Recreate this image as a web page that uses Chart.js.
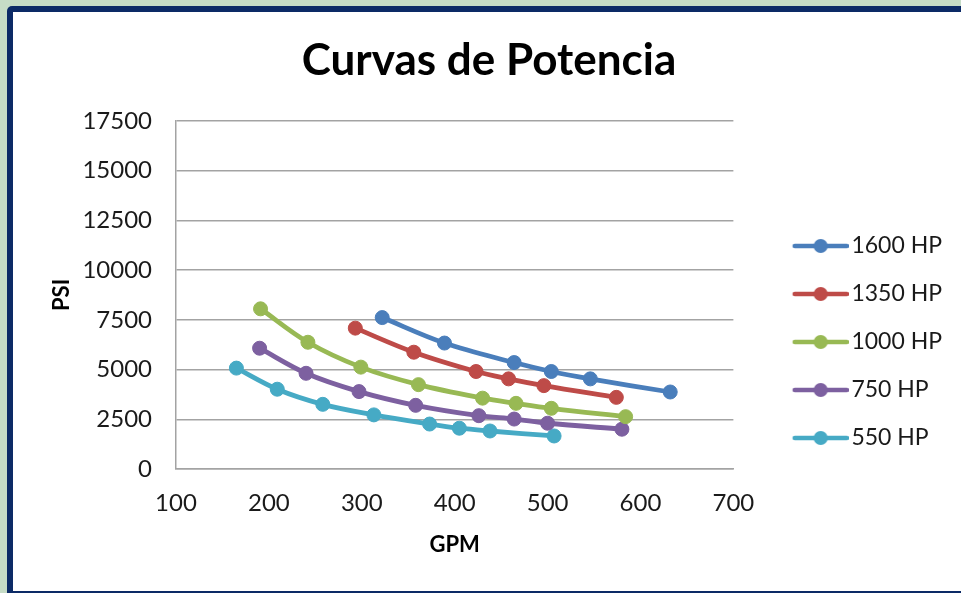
<!DOCTYPE html>
<html>
<head>
<meta charset="utf-8">
<title>Curvas de Potencia</title>
<script src="https://cdn.jsdelivr.net/npm/chart.js@4.4.1/dist/chart.umd.min.js"></script>
<style>
  html, body { margin: 0; padding: 0; background: #c6dcc6; }
  #wrap { position: relative; width: 961px; height: 593px; }
  canvas { display: block; }
</style>
</head>
<body>
<div id="wrap"><canvas id="chart" width="961" height="593"></canvas></div>
<script>
// Axis tick values
const xTicks = [100, 200, 300, 400, 500, 600, 700];
const yTicks = [0, 2500, 5000, 7500, 10000, 12500, 15000, 17500];

// Series names and colours
const seriesNames = ['1600 HP', '1350 HP', '1000 HP', '750 HP', '550 HP'];
const seriesColors = ['#4a7ebb', '#be4b48', '#98b954', '#7d60a0', '#46aac5'];

// Caudal (GPM) y presión (PSI) de cada curva de potencia
const gpm1600 = [322, 389, 464, 504, 546, 632];
const psi1600 = [7610, 6330, 5350, 4900, 4530, 3870];
const gpm1350 = [293, 356, 423, 458, 496, 574];
const psi1350 = [7080, 5870, 4900, 4530, 4190, 3600];
const gpm1000 = [191, 242, 299, 361, 430, 466, 504, 584];
const psi1000 = [8050, 6370, 5120, 4240, 3560, 3300, 3050, 2630];
const gpm750 = [190, 240, 297, 358, 426, 464, 500, 580];
const psi750 = [6070, 4810, 3890, 3200, 2680, 2510, 2300, 2000];
const gpm550 = [165, 209, 258, 313, 373, 405, 438, 507];
const psi550 = [5070, 4010, 3250, 2720, 2260, 2050, 1910, 1660];

const seriesGpm = [gpm1600, gpm1350, gpm1000, gpm750, gpm550];
const seriesPsi = [psi1600, psi1350, psi1000, psi750, psi550];

const toPoints = (xs, ys) => xs.map((x, i) => ({ x: x, y: ys[i] }));

// Legend swatch: a short line with a round marker, offset inside a wider image
const SWATCH_BOX = 81.5;
function makeSwatch(color) {
  const w = 99, h = 18;
  const c = document.createElement('canvas');
  c.width = w; c.height = h;
  const g = c.getContext('2d');
  g.strokeStyle = color;
  g.lineWidth = 4.5;
  g.lineCap = 'round';
  g.beginPath();
  g.moveTo(45, h / 2);
  g.lineTo(97, h / 2);
  g.stroke();
  g.fillStyle = color;
  g.beginPath();
  g.arc(71, h / 2, 7, 0, Math.PI * 2);
  g.fill();
  return c;
}
const swatches = seriesColors.map(makeSwatch);

// Light green page with a navy framed white panel
const framePlugin = {
  id: 'frame',
  beforeDraw(chart) {
    const ctx = chart.ctx;
    ctx.save();
    ctx.fillStyle = '#c6dcc6';
    ctx.fillRect(0, 0, chart.width, chart.height);
    ctx.fillStyle = '#0c2a66';
    ctx.beginPath();
    ctx.roundRect(7, 6, chart.width + 20, chart.height + 20, 5);
    ctx.fill();
    ctx.fillStyle = '#ffffff';
    ctx.fillRect(13, 12, chart.width, chart.height - 14);
    ctx.restore();
  }
};

const tickFont = { family: 'Lato', size: 24 };
const axisTitleFont = { family: 'Lato', size: 22, weight: 'bold' };
const gridColor = '#a3a3a3';
const plainNumber = v => String(v);

new Chart(document.getElementById('chart'), {
  type: 'scatter',
  data: {
    datasets: seriesNames.map((name, i) => ({
      label: name,
      data: toPoints(seriesGpm[i], seriesPsi[i]),
      showLine: true,
      borderColor: seriesColors[i],
      backgroundColor: seriesColors[i],
      borderWidth: 4.8,
      pointRadius: 7,
      pointBorderWidth: 1,
      pointBorderColor: seriesColors[i],
      pointBackgroundColor: seriesColors[i],
      tension: 0.35,
      fill: false,
      clip: false
    }))
  },
  options: {
    responsive: false,
    devicePixelRatio: 1,
    animation: false,
    layout: { padding: { left: 26, right: 9, top: 0, bottom: 0 } },
    plugins: {
      tooltip: { enabled: false },
      title: {
        display: true,
        text: 'Curvas de Potencia',
        color: '#000000',
        font: { family: 'Lato', size: 44, weight: 'bold' },
        padding: { top: 34, bottom: 34 }
      },
      legend: {
        position: 'right',
        title: { display: true, text: ' ', font: { size: 10 }, padding: { top: 79, bottom: 0 } },
        labels: {
          usePointStyle: true,
          pointStyleWidth: SWATCH_BOX,
          padding: 25,
          color: '#1a1a1a',
          font: { family: 'Lato', size: 23 },
          generateLabels(chart) {
            const items = Chart.defaults.plugins.legend.labels.generateLabels(chart);
            items.forEach(it => { it.pointStyle = swatches[it.datasetIndex]; });
            return items;
          }
        }
      }
    },
    scales: {
      x: {
        type: 'linear',
        min: xTicks[0],
        max: xTicks[xTicks.length - 1],
        afterBuildTicks: s => { s.ticks = xTicks.map(v => ({ value: v })); },
        afterFit: s => { s.height = 124; },
        grid: { display: false, drawTicks: false },
        border: { display: true, color: gridColor, width: 1.5 },
        ticks: { font: tickFont, color: '#1a1a1a', padding: 20, maxRotation: 0, autoSkip: false, callback: plainNumber },
        title: { display: true, text: 'GPM', color: '#000000', font: axisTitleFont, padding: { top: 0, bottom: 35 } }
      },
      y: {
        type: 'linear',
        min: yTicks[0],
        max: yTicks[yTicks.length - 1],
        afterBuildTicks: s => { s.ticks = yTicks.map(v => ({ value: v })); },
        afterFit: s => { s.width = 150; },
        grid: { display: true, color: gridColor, lineWidth: 1.5, drawTicks: false },
        border: { display: true, color: gridColor, width: 1.5 },
        ticks: { font: tickFont, color: '#1a1a1a', padding: 24, autoSkip: false, callback: plainNumber },
        title: { display: true, text: 'PSI', color: '#000000', font: axisTitleFont, padding: { top: 23, bottom: 0 } }
      }
    }
  },
  plugins: [framePlugin]
});
</script>
</body>
</html>
